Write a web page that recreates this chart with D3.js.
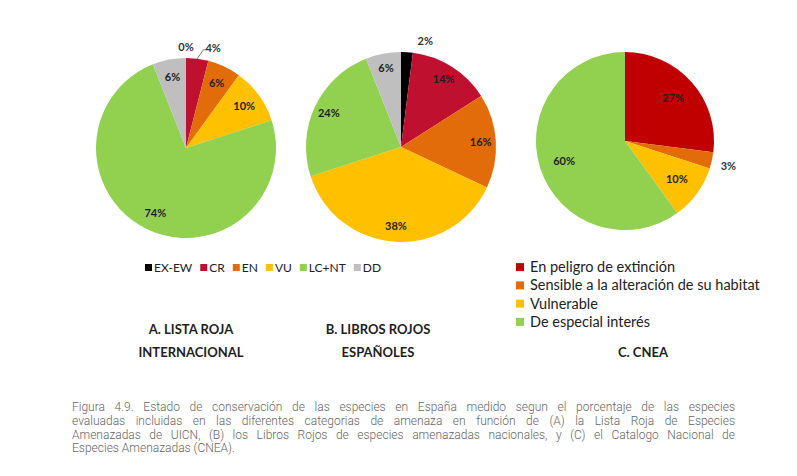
<!DOCTYPE html>
<html>
<head>
<meta charset="utf-8">
<style>
  html, body { margin: 0; padding: 0; background: #fff; }
  svg { display: block; }
</style>
</head>
<body>
<div id="chart"></div>
<script src="https://cdn.jsdelivr.net/npm/d3@7"></script>
<script>
// categories and values
var iucnCats = ["EX-EW", "CR", "EN", "VU", "LC+NT", "DD"];
var iucnColors = ["#000000", "#C0102F", "#E36C0A", "#FFC000", "#92D050", "#BFBFBF"];
var valsA = [0, 4, 6, 10, 74, 6];     // A. Lista Roja Internacional
var valsB = [2, 14, 16, 38, 24, 6];   // B. Libros Rojos Españoles

var cneaCats = ["En peligro de extinción", "Sensible a la alteración de su habitat", "Vulnerable", "De especial interés"];
var cneaColors = ["#C00000", "#E36C0A", "#FFC000", "#92D050"];
var valsC = [27, 3, 10, 60];          // C. CNEA

var captionLines = [
  "Figura 4.9. Estado de conservación de las especies en España medido segun el porcentaje de las especies",
  "evaluadas incluidas en las diferentes categorias de amenaza en función de (A) la Lista Roja de Especies",
  "Amenazadas de UICN, (B) los Libros Rojos de especies amenazadas nacionales, y (C) el Catalogo Nacional de",
  "Especies Amenazadas (CNEA)."
];

var width = 797, height = 476;

var svg = d3.select("#chart").append("svg")
  .attr("width", width).attr("height", height);

svg.append("rect").attr("width", width).attr("height", height).attr("fill", "#fff");

var pie = d3.pie().sort(null).value(d => d);

function drawPie(vals, colors, cx, cy, r, labelRatio) {
  var g = svg.append("g").attr("transform", "translate(" + cx + "," + cy + ")");
  var arcs = pie(vals);
  var arc = d3.arc().innerRadius(0).outerRadius(r);
  var labelArc = d3.arc().innerRadius(r * labelRatio).outerRadius(r * labelRatio);

  g.selectAll("path")
    .data(arcs)
    .join("path")
      .attr("d", arc)
      .attr("fill", (d, i) => colors[i]);

  var lab = g.append("g")
    .style("font", "bold 11px Lato")
    .attr("fill", "#1e1e1e");

  arcs.forEach(function(d, i) {
    var a = (d.startAngle + d.endAngle) / 2;
    if (d.data >= 5) {
      var c = labelArc.centroid(d);
      lab.append("text")
        .attr("x", c[0]).attr("y", c[1])
        .attr("dy", "0.35em")
        .attr("text-anchor", "middle")
        .text(d.data + "%");
    } else {
      // small slices get their label outside the pie
      var s = Math.sin(a), co = -Math.cos(a);
      var ro = r + 9;
      var x = ro * s, y = ro * co + (Math.abs(s) < 0.5 ? -2 : 4);
      var anchor = s > 0.05 ? "start" : (s < -0.05 ? "end" : "middle");
      if (Math.abs(s) < 0.5 && s > 0.05) x += 10;
      var prevOutside = i > 0 && arcs[i - 1].data < 5;
      if (prevOutside) {
        x -= 6;
        lab.append("path")
          .attr("d", "M" + (r * s) + "," + (r * co) + "L" + (x + 1) + "," + (y + 2) + "L" + (x + 4) + "," + (y + 2))
          .attr("fill", "none")
          .attr("stroke", "#555")
          .attr("stroke-width", 0.8);
        x += 3;
      }
      lab.append("text")
        .attr("x", x).attr("y", y)
        .attr("dy", "0.35em")
        .attr("text-anchor", anchor)
        .attr("fill", "#333")
        .text(d.data + "%");
    }
  });
}

drawPie(valsA, iucnColors, 186, 148, 90, 0.80);
drawPie(valsB, iucnColors, 401, 147, 95, 0.84);
drawPie(valsC, cneaColors, 625, 141, 89, 0.72);

// horizontal legend for A and B
var legAB = svg.append("g").style("font", "12px Lato").attr("fill", "#222");
var lx = 145;
iucnCats.forEach(function(c, i) {
  legAB.append("rect")
    .attr("x", lx).attr("y", 264)
    .attr("width", 7).attr("height", 7)
    .attr("fill", iucnColors[i]);
  var t = legAB.append("text")
    .attr("x", lx + 9).attr("y", 268)
    .attr("dy", "0.35em")
    .text(c);
  lx += 9 + t.node().getComputedTextLength() + 8;
});

// vertical legend for C
var legC = svg.append("g").style("font", "14.5px Lato").attr("fill", "#222");
var rowY = d3.scaleBand().domain(cneaCats).range([258, 331]);
cneaCats.forEach(function(c, i) {
  var y = rowY(c) + rowY.bandwidth() / 2;
  legC.append("rect")
    .attr("x", 516).attr("y", y - 4)
    .attr("width", 8).attr("height", 8)
    .attr("fill", cneaColors[i]);
  legC.append("text")
    .attr("x", 530).attr("y", y)
    .attr("dy", "0.35em")
    .text(c);
});

// chart titles
var titles = svg.append("g")
  .style("font", "bold 13px Lato")
  .attr("fill", "#1e1e1e")
  .attr("text-anchor", "middle");
[["A. LISTA ROJA", 191, 329], ["INTERNACIONAL", 191, 352],
 ["B. LIBROS ROJOS", 378, 329], ["ESPAÑOLES", 378, 352],
 ["C. CNEA", 643, 352]].forEach(function(t) {
  titles.append("text").attr("x", t[1]).attr("y", t[2]).attr("dy", "0.35em").text(t[0]);
});

// figure caption, justified with word spacing
var capWidth = 663;
var cap = svg.append("g")
  .style("font", "300 12px Roboto")
  .attr("fill", "#666");
captionLines.forEach(function(line, i) {
  var t = cap.append("text")
    .attr("x", 72).attr("y", 407 + i * 13.7)
    .attr("dy", "0.35em")
    .text(line);
  if (i < captionLines.length - 1) {
    var w = t.node().getComputedTextLength();
    var spaces = line.split(" ").length - 1;
    t.attr("word-spacing", Math.max(0, (capWidth - w) / spaces));
  }
});
</script>
</body>
</html>
